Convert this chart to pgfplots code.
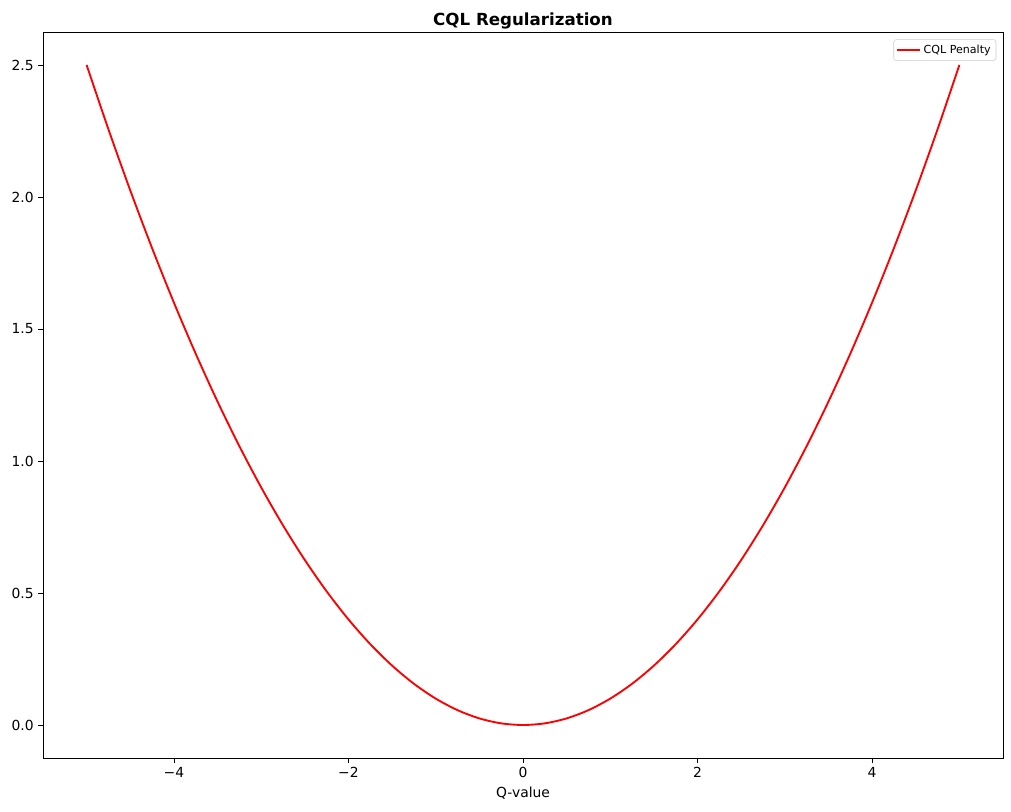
\documentclass[border=0pt]{standalone}
\usepackage{pgfplots}
\pgfplotsset{compat=1.18}
\usepackage{fontspec}
\setmainfont{DejaVu Sans}
\begin{document}
\begin{tikzpicture}
\path[use as bounding box] (-32.25pt,-39.75pt) rectangle (726pt,568.5pt);
\begin{axis}[
  at={(0,0)}, anchor=south west,
  scale only axis, width=720pt, height=544.5pt,
  xmin=-5.5, xmax=5.5, ymin=-0.125, ymax=2.625,
  xtick={-4,-2,0,2,4},
  ytick={0,0.5,1,1.5,2,2.5},
  yticklabel style={/pgf/number format/.cd, fixed, fixed zerofill, precision=1},
  /pgf/number format/assume math mode=true,
  tick align=outside, tick pos=left,
  major tick length=3.5pt,
  tick style={black, line width=0.6pt},
  axis line style={line width=0.6pt},
  ticklabel style={font=\fontsize{10.4}{12}\selectfont},
  xticklabels={−4,−2,0,2,4},
  title={\bfseries CQL Regularization},
  title style={font=\fontsize{12.5}{14}\selectfont, at={(0.5,1)}, anchor=base, yshift=-1pt},
  xlabel={Q-value},
  xlabel style={font=\fontsize{10.4}{12}\selectfont, at={(0.5,0)}, anchor=base, yshift=-30pt},
  legend style={at={(0.993,0.99)}, anchor=north east, font=\fontsize{8.3}{10}\selectfont, draw=black!20, rounded corners=2pt, inner sep=2pt},
  legend cell align=left,
]
\addplot[red, line width=1.4pt, smooth] coordinates {
(-5,2.5) (-4.75,2.25625) (-4.5,2.025) (-4.25,1.80625) (-4,1.6) (-3.75,1.40625) (-3.5,1.225) (-3.25,1.05625) (-3,0.9) (-2.75,0.75625) (-2.5,0.625) (-2.25,0.50625) (-2,0.4) (-1.75,0.30625) (-1.5,0.225) (-1.25,0.15625) (-1,0.1) (-0.75,0.05625) (-0.5,0.025) (-0.25,0.00625) (0,0)
(0.25,0.00625) (0.5,0.025) (0.75,0.05625) (1,0.1) (1.25,0.15625) (1.5,0.225) (1.75,0.30625) (2,0.4) (2.25,0.50625) (2.5,0.625) (2.75,0.75625) (3,0.9) (3.25,1.05625) (3.5,1.225) (3.75,1.40625) (4,1.6) (4.25,1.80625) (4.5,2.025) (4.75,2.25625) (5,2.5)
};
\addlegendentry{CQL Penalty}
\end{axis}
\end{tikzpicture}
\end{document}
